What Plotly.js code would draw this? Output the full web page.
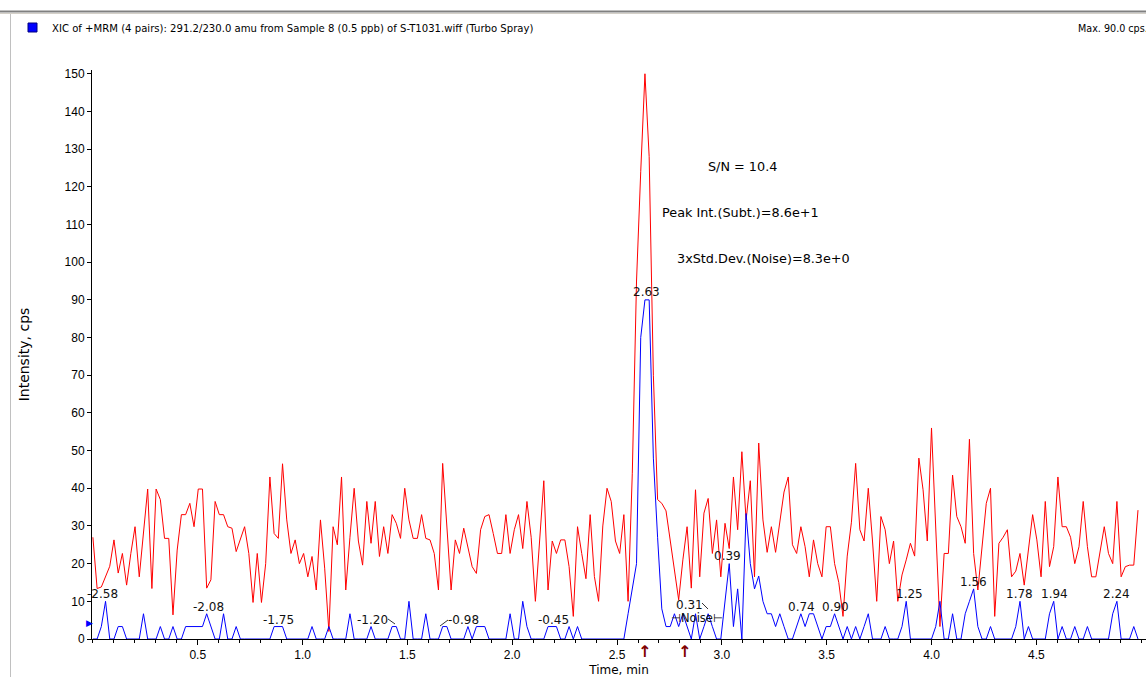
<!DOCTYPE html>
<html><head><meta charset="utf-8">
<script src="https://cdn.plot.ly/plotly-3.0.1.min.js"></script>
<style>html,body{margin:0;padding:0;background:#fff;overflow:hidden}#chart{width:1146px;height:677px}</style>
</head><body><div id="chart"></div>
<script>
// ---- data ----
const startTime = 0;          // min
const sampleStep = 0.0201;    // min between scans

// red XIC trace (cps)
const xicRed = [
27,13.4,13.8,16.5,19.3,26.3,17.5,22.7,14.3,22.7,
29.8,16.5,28,39.8,13.4,39.8,37,26.7,26.7,6.4,
23.6,33,33,36,29.8,39.8,39.8,13.5,15.7,36.5,
33,33,29.8,29.4,23.2,26.3,29.8,22.7,9.7,22.7,
9.7,20,43,28,26.7,46.5,31.6,22.7,26.3,20,
22.7,16.5,21.9,13,31.6,18.8,2,29.8,25,43,
13,27,40,26,19.6,36.5,25.4,36.5,21.9,29.8,
22.7,33,30.7,26.7,40,31.6,26.7,26.7,33,26.7,
26.3,22.7,13,46.6,29,13,26.3,22.7,29.4,24.5,
19.2,17.4,29,32.5,33,28,22.7,22.7,33,22.7,
29,33,24,36.5,27,10,25,42,13,26,
22.7,26.3,26.3,19.2,6,29.8,22.7,16,33,16.6,
10,30,40,36.5,26,22.7,33,10,44,95,
124,150,128,70,37,36,34,26,18,10.4,
21,29.8,13.5,39.6,16.5,33.4,37.3,22.7,31.6,16.5,
30.7,24,43,29,49.7,31.6,42,16.5,52,31.6,
23,29.8,23,31.6,39,43,25,22.7,29.8,24.5,
16.5,26.3,20,16.5,29.8,29.8,20,15,6,22,
31,46.6,29,26,40,26,10,32.5,29,20,
26,10,17,21,25.4,22,48,39.6,26,56,
31.6,3.3,22.7,22.7,43.5,32.5,29.8,25.4,53,22.7,
13,24.5,36,40,6,25.4,27,29,16.5,18,
22.7,14.3,24.5,33,26.3,16.5,36.5,19.2,24.5,43,
29.8,29.8,27,20,24.5,36.5,24.5,16.5,16.5,22.7,
29.8,22.7,20,36.5,16.5,19.2,19.6,19.6,34.2
];

// blue XIC trace (cps)
const xicBlue = [
0,0,3.3,10,0,0,3.3,3.3,0,0,
0,0,6.7,0,0,0,3.3,0,0,3.3,
0,0,3.3,3.3,3.3,3.3,3.3,6.7,3.3,0,
0,6.7,0,0,3.3,0,0,0,0,0,
0,0,0,3.3,3.3,3.3,0,0,0,0,
0,0,3.3,0,0,0,3.3,0,0,0,
0,6.7,0,0,0,0,3.3,0,0,0,
0,3.3,3.3,0,0,10,0,0,0,6.7,
0,0,0,3.3,3.3,0,0,0,0,3.3,
0,3.3,3.3,3.3,0,0,0,0,0,6.7,
0,0,10,3.3,0,0,0,0,3.3,3.3,
3.3,0,0,3.3,0,3.3,0,0,0,0,
0,0,0,0,0,0,0,6.7,14,20,
80,90,90,48,27,8,3.3,3.3,6.7,3.3,
6.7,3.3,0,6.7,0,3.3,6.7,3.3,0,0,
10,20,3.3,13.3,0,33.3,20,13.3,16.7,10,
6.7,6.7,3.3,6.7,3.3,0,0,3.3,6.7,3.3,
6.7,6.7,3.3,0,3.3,3.3,6.7,3.3,0,3.3,
0,3.3,0,3.3,6.7,0,0,0,3.3,0,
0,0,3.3,10,0,0,0,0,0,0,
3.3,10,0,0,6.7,0,0,6.7,10,13.3,
3.3,0,0,3.3,0,0,0,0,0,3.3,
10,0,3.3,0,0,0,0,6.7,10,0,
3.3,0,0,3.3,0,0,3.3,0,0,0,
0,0,6.7,10,0,0,0,3.3,0
];

const xTickVals = [0.5,1.0,1.5,2.0,2.5,3.0,3.5,4.0,4.5];
const xTickText = ['0.5','1.0','1.5','2.0','2.5','3.0','3.5','4.0','4.5'];
const yTickVals = [0,10,20,30,40,50,60,70,80,90,100,110,120,130,140,150];

const headerText = 'XIC of +MRM (4 pairs): 291.2/230.0 amu from Sample 8 (0.5 ppb) of S-T1031.wiff (Turbo Spray)';
const maxText = 'Max. 90.0 cps.';
const statTexts = ['S/N = 10.4', 'Peak Int.(Subt.)=8.6e+1', '3xStd.Dev.(Noise)=8.3e+0'];
const peakTexts = ['-2.58','-2.08','-1.75','-1.20','-0.98','-0.45','2.63','0.31','0.39','0.74','0.90','1.25','1.56','1.78','1.94','2.24'];
const noiseText = '\u22A3Noise\u22A2';

// ---- layout helpers (pixel -> paper) ----
const ML = 92, MR = 0, MT = 70, MB = 38, FW = 1146, FH = 677;
const PW = FW - ML - MR, PH = FH - MT - MB;
const px = x => (x - ML) / PW;
const py = y => (FH - MB - y) / PH;
const FONT = 'Liberation Sans, Arial, sans-serif';
const WFONT = 'DejaVu Sans, Verdana, sans-serif';

const peakPos = [[102,594],[208,607],[278,620],[372,620],[463,620],[553,620],[646,292],[689,605],[727,556],[801,607],[835,607],[909,594],[973,582],[1019,594],[1054,594],[1116,594]];
const statPos = [[742,166],[740,213],[763,258]];

const annotations = [];
annotations.push({text: headerText, x: px(50), y: py(28), xref:'paper', yref:'paper', xanchor:'left', yanchor:'middle', showarrow:false, font:{family:WFONT, size:10.1, color:'#000'}});
annotations.push({text: maxText, x: px(1076), y: py(28), xref:'paper', yref:'paper', xanchor:'left', yanchor:'middle', showarrow:false, font:{family:WFONT, size:9.6, color:'#000'}});
statTexts.forEach((t,i)=>annotations.push({text:t, x:px(statPos[i][0]), y:py(statPos[i][1]), xref:'paper', yref:'paper', xanchor:'center', yanchor:'middle', showarrow:false, font:{family:WFONT,size:12.8,color:'#000'}}));
peakTexts.forEach((t,i)=>annotations.push({text:t, x:px(peakPos[i][0]), y:py(peakPos[i][1]), xref:'paper', yref:'paper', xanchor:'center', yanchor:'middle', showarrow:false, font:{family:WFONT,size:12,color:'#111'}}));
annotations.push({text: noiseText, x:px(697), y:py(618), xref:'paper', yref:'paper', xanchor:'center', yanchor:'middle', showarrow:false, font:{family:WFONT,size:11.5,color:'#111'}});
// blue marker at left axis
annotations.push({text:'\u25B6', x:px(89), y:py(623), xref:'paper', yref:'paper', xanchor:'center', yanchor:'middle', showarrow:false, font:{family:'DejaVu Sans',size:9,color:'#0000ff'}});
// dark red arrows under the axis
[644,684].forEach(xx=>annotations.push({text:'<b>\u2191</b>', x:px(xx), y:py(651), xref:'paper', yref:'paper', xanchor:'center', yanchor:'middle', showarrow:false, font:{family:'DejaVu Sans',size:16,color:'#800000'}}));

const lineShape = (x0,y0,x1,y1,color,w)=>({type:'line', xref:'paper', yref:'paper', x0:px(x0), y0:py(y0), x1:px(x1), y1:py(y1), line:{color:color, width:w}});
const shapes = [
  lineShape(0,11.5,1146,11.5,'#808080',2),
  lineShape(0,13.5,1146,13.5,'#d4d0c8',1),
  lineShape(10.5,14,10.5,677,'#c0c0c0',1),
  {type:'rect', xref:'paper', yref:'paper', x0:px(28), y0:py(32), x1:px(37), y1:py(23), fillcolor:'#0000ff', line:{color:'#000080', width:1}},
  lineShape(388,619,395,624,'#333',1),
  lineShape(440,626,448,620,'#333',1),
  lineShape(702,603,708,609,'#333',1)
];

const traces = [
  {type:'scatter', mode:'lines', y:xicRed, x0:startTime, dx:sampleStep, line:{color:'rgb(255,0,0)', width:1}, hoverinfo:'skip'},
  {type:'scatter', mode:'lines', y:xicBlue, x0:startTime, dx:sampleStep, line:{color:'rgb(0,0,255)', width:1}, hoverinfo:'skip'}
];

const layout = {
  width: FW, height: FH,
  margin:{l:ML, r:MR, t:MT, b:MB, pad:0},
  paper_bgcolor:'#fff', plot_bgcolor:'#fff',
  showlegend:false, hovermode:false,
  font:{family:FONT, size:12, color:'#000'},
  xaxis:{range:[-0.0043, 5.023], tickvals:xTickVals, ticktext:xTickText, ticks:'outside', ticklen:5, tickcolor:'#000',
         minor:{dtick:0.1, tick0:0, ticks:'outside', ticklen:3, tickcolor:'#000'},
         showline:true, linecolor:'#000', linewidth:1, showgrid:false, zeroline:false,
         tickfont:{family:FONT, size:12, color:'#000'},
         title:{text:'Time, min', font:{family:WFONT,size:12,color:'#000'}, standoff:7}},
  yaxis:{range:[0,151], tickvals:yTickVals, ticks:'outside', ticklen:4, tickcolor:'#000',
         showline:true, linecolor:'#000', linewidth:1, showgrid:false, zeroline:false,
         tickfont:{family:FONT, size:12, color:'#000'},
         title:{text:'Intensity, cps', font:{family:WFONT,size:14,color:'#000'}, standoff:31}},
  annotations: annotations,
  shapes: shapes
};

Plotly.newPlot('chart', traces, layout, {staticPlot:true, displayModeBar:false});
</script></body></html>
